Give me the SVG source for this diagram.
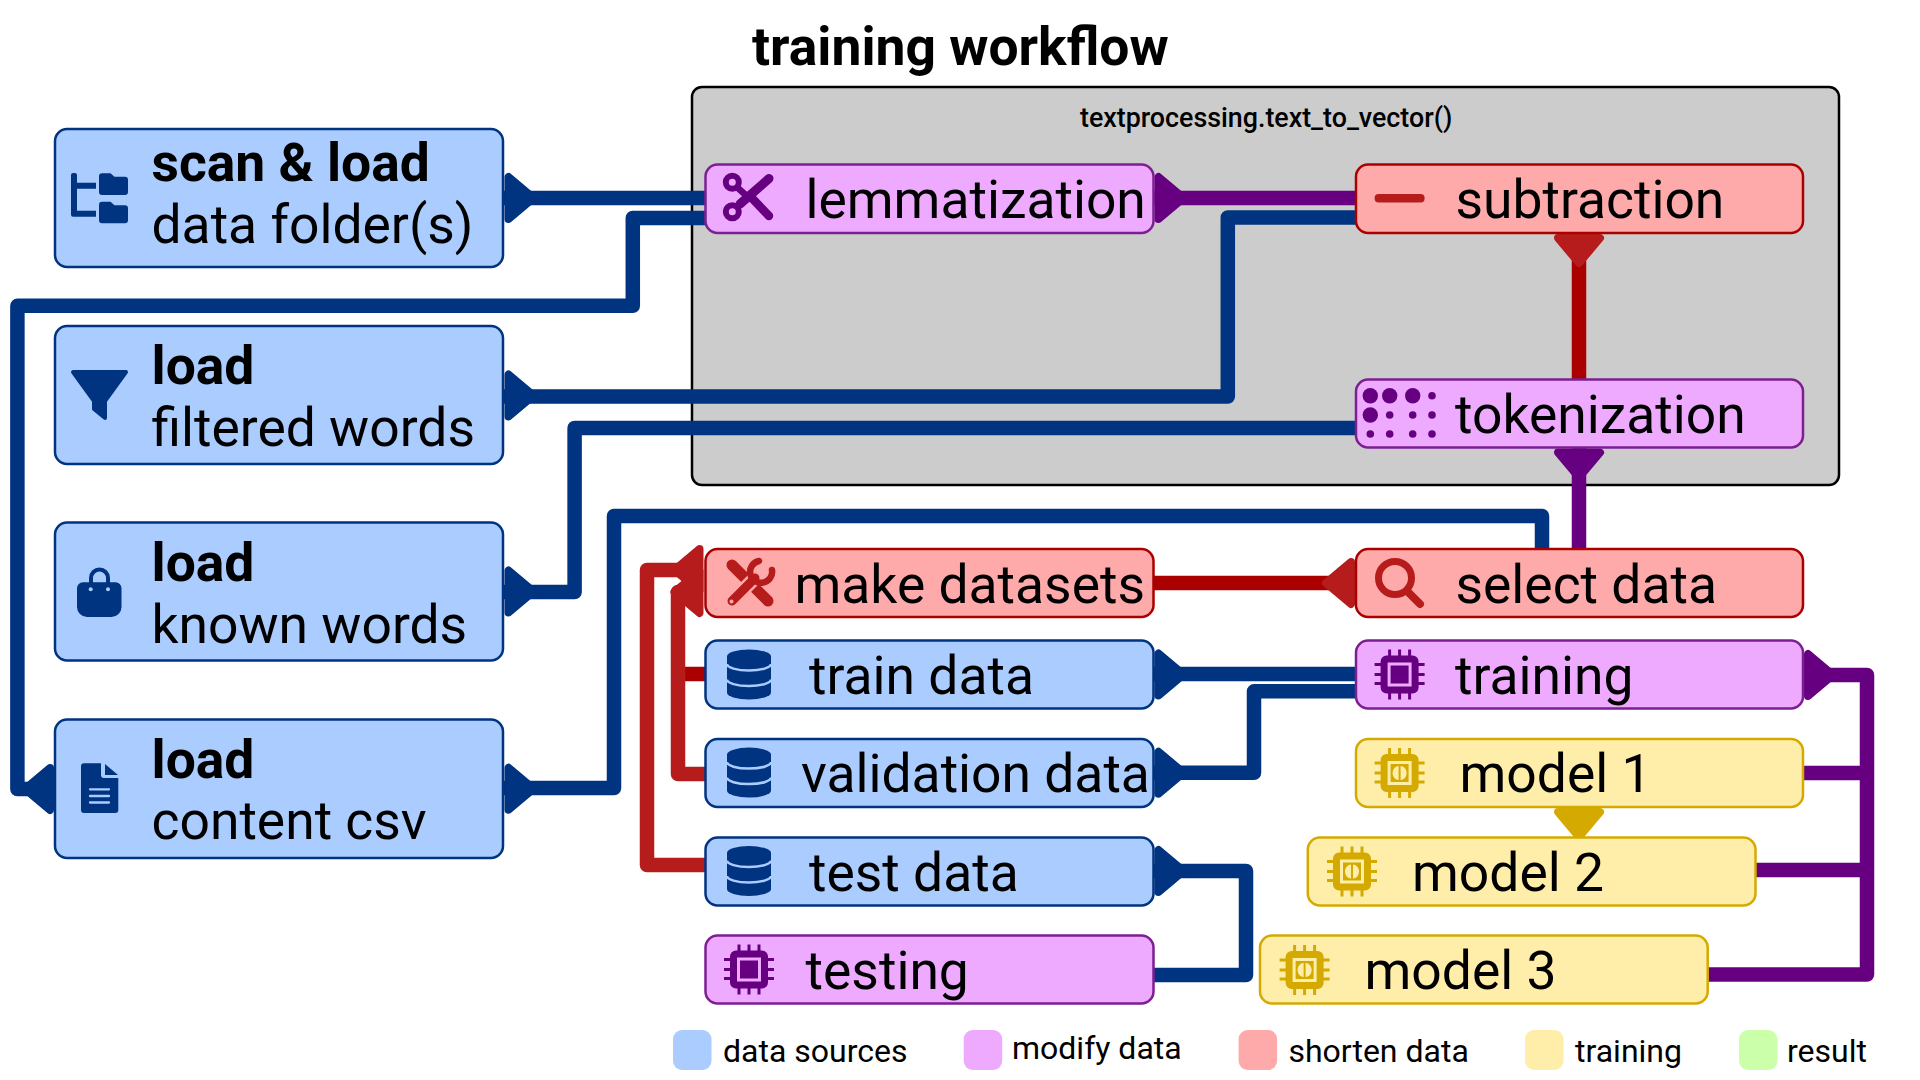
<svg xmlns="http://www.w3.org/2000/svg" width="1920" height="1080" viewBox="0 0 1920 1080">
<style>
text{font-family:Roboto,"Liberation Sans",sans-serif;fill:#000}
.t{font-size:53.400px}
.b{font-size:53.400px;font-weight:700}
.lg{font-size:32px}
.n{stroke-width:2.5}
.blue{fill:#aaccff;stroke:#003380}
.pur{fill:#eeaaff;stroke:#7c1f92}
.red{fill:#ffaaaa;stroke:#aa0000}
.yel{fill:#ffeeaa;stroke:#d4aa00}
.c{fill:none;stroke-width:14.5;stroke-linejoin:round}
.cb{stroke:#003380}.cp{stroke:#660080}.cr{stroke:#aa0000}.cd{stroke:#b71c1c}
.ab{fill:#003380;stroke:#003380}.ap{fill:#660080;stroke:#660080}.ad{fill:#b71c1c;stroke:#b71c1c}.ay{fill:#d4aa00;stroke:#d4aa00}
</style>
<defs>
<path id="arrow" d="M5 -21L5 21L30 0Z" stroke-width="8" stroke-linejoin="round"/>
<symbol id="db" viewBox="0 0 44 50" overflow="visible">
<path d="M0 7A22 7 0 0 1 44 7V43A22 7 0 0 1 0 43Z" fill="#003380"/>
<path d="M0 14.500A22 6.500 0 0 0 44 14.500M0 30A22 6.500 0 0 0 44 30" fill="none" stroke="#aaccff" stroke-width="2.500"/>
</symbol>
<g id="pins" fill="none" stroke="currentColor" stroke-width="3">
<path d="M15 0V8M25 0V8M35 0V8M15 42V50M25 42V50M35 42V50M0 15H8M0 25H8M0 34H8M42 15H50M42 25H50M42 34H50"/>
</g>
<symbol id="chip" viewBox="0 0 50 50" overflow="visible">
<use href="#pins"/>
<path fill="currentColor" fill-rule="evenodd" d="M12 6H38A6 6 0 0 1 44 12V38A6 6 0 0 1 38 44H12A6 6 0 0 1 6 38V12A6 6 0 0 1 12 6ZM13 13V37H37V13ZM16 16H34V34H16Z"/>
</symbol>
<symbol id="brain" viewBox="0 0 50 50" overflow="visible">
<use href="#pins"/>
<path fill="currentColor" fill-rule="evenodd" d="M12 6H38A6 6 0 0 1 44 12V38A6 6 0 0 1 38 44H12A6 6 0 0 1 6 38V12A6 6 0 0 1 12 6ZM13 13V37H37V13ZM16 16H34V34H16ZM24 18C20 18 18 22 18 25C18 28 20 32 24 32ZM26 18V32C30 32 32 28 32 25C32 22 30 18 26 18Z"/>
</symbol>
</defs>
<rect width="1920" height="1080" fill="#fff"/>
<text x="752" y="65" style="font-size:53.400px;font-weight:700">training workflow</text>
<g id="workflow-box">
<rect x="692" y="87" width="1147" height="398" rx="10" fill="#cccccc" stroke="#000" stroke-width="2.500"/>
<text x="1080" y="127" style="font-size:26.800px;font-weight:500">textprocessing.text_to_vector()</text>
</g>
<g id="connectors">
<path class="c cb" d="M503 198H706"/>
<path class="c cb" d="M706 218H632.800V305.800H17.400V789H56"/>
<path class="c cb" d="M503 396.500H1227.800V217.500H1356"/>
<path class="c cb" d="M503 592H574.600V428H1356"/>
<path class="c cb" d="M503 788H614V516H1542V549"/>
<path class="c cb" d="M1153 674H1356"/>
<path class="c cb" d="M1153 772.800H1254V691.300H1356"/>
<path class="c cb" d="M1153 871H1246V975H1154"/>
<path class="c cp" d="M1153 198H1356"/>
<path class="c cp" d="M1579 447V549"/>
<path class="c cp" d="M1803 675H1867V974.600H1707"/>
<path class="c cp" d="M1803 773H1867"/>
<path class="c cp" d="M1755 870H1867"/>
<path class="c cr" d="M1579 233V379"/>
<path class="c cr" d="M1153 583H1356"/>
<path class="c cr" d="M705 674H678"/>
<path class="c cd" d="M705 774H678V592H700"/>
<path class="c cd" d="M705 865H647V570H700"/>
<use href="#arrow" class="ab" transform="translate(503.500 198)"/>
<use href="#arrow" class="ab" transform="translate(503.500 395.500)"/>
<use href="#arrow" class="ab" transform="translate(503.500 591.500)"/>
<use href="#arrow" class="ab" transform="translate(503.500 788.700)"/>
<use href="#arrow" class="ab" transform="translate(55 789) rotate(180)"/>
<use href="#arrow" class="ab" transform="translate(1153.500 674.500)"/>
<use href="#arrow" class="ab" transform="translate(1153.500 772.800)"/>
<use href="#arrow" class="ab" transform="translate(1153.500 871)"/>
<use href="#arrow" class="ap" transform="translate(1153.500 198)"/>
<use href="#arrow" class="ap" transform="translate(1579 447.500) rotate(90)"/>
<use href="#arrow" class="ap" transform="translate(1803 675)"/>
<use href="#arrow" class="ad" transform="translate(1579 233) rotate(90)"/>
<use href="#arrow" class="ad" transform="translate(1356 583) rotate(180)"/>
<use href="#arrow" class="ad" transform="translate(704.500 570) rotate(180)"/>
<use href="#arrow" class="ad" transform="translate(704.500 592) rotate(180)"/>
<use href="#arrow" class="ay" transform="translate(1579 807) rotate(90)"/>
</g>
<g id="scan-load">
<rect class="n blue" x="55" y="129" width="448" height="138" rx="12"/>
<path fill="#003380" d="M71 175a2 2 0 0 1 2-2h2a2 2 0 0 1 2 2v7.700h19v6H77v22h19v6H73a2 2 0 0 1-2-2Z"/>
<path fill="#003380" d="M102 173.300h8.500l4 3.500h10.500a3 3 0 0 1 3 3V192a3 3 0 0 1-3 3H102a3 3 0 0 1-3-3V176.300a3 3 0 0 1 3-3Z"/>
<path fill="#003380" d="M102 201.700h8.500l4 3.500h10.500a3 3 0 0 1 3 3V220.300a3 3 0 0 1-3 3H102a3 3 0 0 1-3-3V204.700a3 3 0 0 1 3-3Z"/>
<text class="b" x="151.500" y="181">scan &amp; load</text>
<text class="t" x="151.500" y="243">data folder(s)</text>
</g>
<g id="load-filtered">
<rect class="n blue" x="55" y="326" width="448" height="138" rx="12"/>
<path fill="#003380" stroke="#003380" stroke-width="4" stroke-linejoin="round" d="M73 372H126L105 401V418L94 409V401Z"/>
<text class="b" x="151.500" y="384">load</text>
<text class="t" x="151.500" y="445.500">filtered words</text>
</g>
<g id="load-known">
<rect class="n blue" x="55" y="522.500" width="448" height="138" rx="12"/>
<path d="M91 584V578a8.500 8.500 0 0 1 17 0V584" fill="none" stroke="#003380" stroke-width="4"/>
<path fill="#003380" d="M83 582.300H115.500a6 6 0 0 1 6 6V607a10 10 0 0 1-10 10H87a10 10 0 0 1-10-10V588.300a6 6 0 0 1 6-6Z"/>
<circle cx="90.700" cy="589.300" r="2" fill="#aaccff"/><circle cx="108" cy="589.300" r="2" fill="#aaccff"/>
<text class="b" x="151.500" y="581">load</text>
<text class="t" x="151.500" y="643">known words</text>
</g>
<g id="load-content">
<rect class="n blue" x="55" y="719.500" width="448" height="138.500" rx="12"/>
<path fill="#003380" d="M84 763.300H101V775a3 3 0 0 0 3 3H118.300V810a3 3 0 0 1-3 3H84a3 3 0 0 1-3-3V766.300a3 3 0 0 1 3-3ZM105 764L118 775H105Z"/>
<path d="M90 789.300H109M90 796H109M90 802.500H109" stroke="#aaccff" stroke-width="2.300" stroke-linecap="round"/>
<text class="b" x="151.500" y="778">load</text>
<text class="t" x="151.500" y="838.500">content csv</text>
</g>
<g id="lemmatization">
<rect class="n pur" x="705.500" y="164.500" width="448" height="68.500" rx="12"/>
<g fill="none" stroke="#660080" stroke-linecap="round">
<circle cx="732.300" cy="182.300" r="6.500" stroke-width="6"/>
<circle cx="732.300" cy="211.700" r="6.500" stroke-width="6"/>
<path d="M740 204L769 178.500" stroke-width="9"/>
<path d="M750 196L769 216" stroke-width="8.500"/>
<path d="M739 189L749 198" stroke-width="6.500"/>
</g>
<text class="t" x="805.500" y="218">lemmatization</text>
</g>
<g id="subtraction">
<rect class="n red" x="1356" y="164.500" width="447" height="68.500" rx="12"/>
<rect x="1374.600" y="194" width="50" height="8.500" rx="4" fill="#b71c1c"/>
<text class="t" x="1455.500" y="218">subtraction</text>
</g>
<g id="tokenization">
<rect class="n pur" x="1356" y="379.500" width="447" height="68" rx="12"/>
<g fill="#660080">
<circle cx="1370.300" cy="395.700" r="7.700"/><circle cx="1389.700" cy="395.700" r="7.700"/><circle cx="1412.700" cy="395.700" r="7.700"/><circle cx="1432" cy="395.700" r="3.800"/>
<circle cx="1370.300" cy="415" r="7.700"/><circle cx="1389.700" cy="415" r="3.800"/><circle cx="1412.700" cy="415" r="3.800"/><circle cx="1432" cy="415" r="3.800"/>
<circle cx="1370.300" cy="434" r="3.800"/><circle cx="1389.700" cy="434" r="3.800"/><circle cx="1412.700" cy="434" r="3.800"/><circle cx="1432" cy="434" r="3.800"/>
</g>
<text class="t" x="1455" y="433">tokenization</text>
</g>
<g id="make-datasets">
<rect class="n red" x="705.500" y="549" width="448" height="68" rx="12"/>
<g transform="translate(725 558)" fill="none" stroke-linecap="round">
<path d="M7 7L43 43" stroke="#b71c1c" stroke-width="11"/>
<path d="M8 42L30 20" stroke="#ffaaaa" stroke-width="14"/>
<path d="M7 43L30 20" stroke="#b71c1c" stroke-width="9"/>
<path d="M34 3A11 11 0 1 0 47 12" stroke="#b71c1c" stroke-width="6.500"/>
<circle cx="6.500" cy="43.500" r="2" fill="#ffaaaa"/>
</g>
<text class="t" x="794.500" y="603">make datasets</text>
</g>
<g id="select-data">
<rect class="n red" x="1356" y="549" width="447" height="68" rx="12"/>
<g fill="none" stroke="#b71c1c" stroke-linecap="round">
<circle cx="1395" cy="578" r="16.500" stroke-width="7"/>
<path d="M1407 591L1420 604" stroke-width="8"/>
</g>
<text class="t" x="1455.500" y="603">select data</text>
</g>
<g id="train-data">
<rect class="n blue" x="705.500" y="640.500" width="448" height="68" rx="12"/>
<use href="#db" x="727" y="649.500" width="44" height="50"/>
<text class="t" x="809" y="694">train data</text>
</g>
<g id="training">
<rect class="n pur" x="1356" y="640.500" width="447" height="68" rx="12"/>
<use href="#chip" x="1374.600" y="649.500" width="50" height="50" color="#660080"/>
<text class="t" x="1455" y="694">training</text>
</g>
<g id="validation-data">
<rect class="n blue" x="705.500" y="739" width="448" height="68" rx="12"/>
<use href="#db" x="727" y="747.600" width="44" height="50"/>
<text class="t" x="801" y="792">validation data</text>
</g>
<g id="model-1">
<rect class="n yel" x="1356" y="739" width="447" height="68" rx="12"/>
<use href="#brain" x="1374.600" y="748" width="50" height="50" color="#d4aa00"/>
<text class="t" x="1459.500" y="791.500">model 1</text>
</g>
<g id="test-data">
<rect class="n blue" x="705.500" y="837.500" width="448" height="68" rx="12"/>
<use href="#db" x="727" y="846" width="44" height="50"/>
<text class="t" x="809" y="891">test data</text>
</g>
<g id="model-2">
<rect class="n yel" x="1307.800" y="837.500" width="447.700" height="68" rx="12"/>
<use href="#brain" x="1327" y="846.500" width="50" height="50" color="#d4aa00"/>
<text class="t" x="1412" y="891">model 2</text>
</g>
<g id="testing">
<rect class="n pur" x="705.500" y="935.500" width="448" height="68" rx="12"/>
<use href="#chip" x="724" y="944.600" width="50" height="50" color="#660080"/>
<text class="t" x="805.600" y="989">testing</text>
</g>
<g id="model-3">
<rect class="n yel" x="1260" y="935.500" width="447.700" height="68" rx="12"/>
<use href="#brain" x="1279.600" y="945" width="50" height="50" color="#d4aa00"/>
<text class="t" x="1364.500" y="989">model 3</text>
</g>
<g id="legend">
<rect x="673" y="1030" width="38.500" height="40" rx="9" fill="#aaccff"/>
<text class="lg" x="723" y="1062">data sources</text>
<rect x="963.700" y="1030" width="38.500" height="40" rx="9" fill="#eeaaff"/>
<text class="lg" x="1012" y="1058.500">modify data</text>
<rect x="1238.600" y="1030" width="38.500" height="40" rx="9" fill="#ffaaaa"/>
<text class="lg" x="1288.400" y="1062">shorten data</text>
<rect x="1525" y="1030" width="38.500" height="40" rx="9" fill="#ffeeaa"/>
<text class="lg" x="1575" y="1062">training</text>
<rect x="1739" y="1030" width="38.500" height="40" rx="9" fill="#ccffaa"/>
<text class="lg" x="1787" y="1062">result</text>
</g>
</svg>
